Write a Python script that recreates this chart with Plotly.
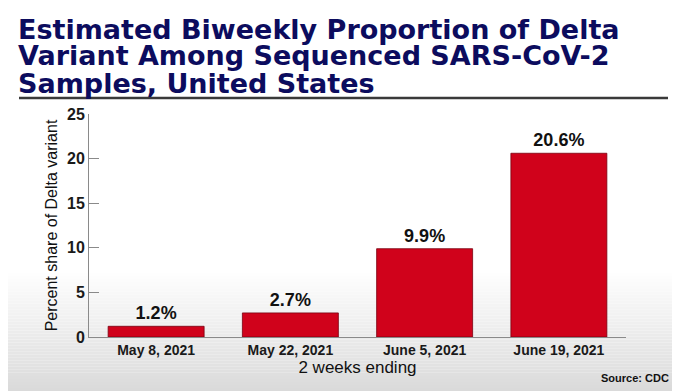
import plotly.graph_objects as go

# ---- data ----
categories = ["May 8, 2021", "May 22, 2021", "June 5, 2021", "June 19, 2021"]
values = [1.2, 2.7, 9.9, 20.6]
labels = ["1.2%", "2.7%", "9.9%", "20.6%"]
y_ticks = [0, 5, 10, 15, 20, 25]
title_lines = ["Estimated Biweekly Proportion of Delta",
               "Variant Among Sequenced SARS-CoV-2",
               "Samples, United States"]

# page body has an 8px margin; work in window pixels and compensate
OFF = 8
W, H = 680 - OFF, 391 - OFF
ML, MR, MT, MB = 89 - OFF, 54, 114 - OFF, 54
PW, PH = W - ML - MR, H - MT - MB

def px(x):  # window pixel x -> paper x
    return (x - OFF - ML) / PW

def py(y):  # window pixel y (from top) -> paper y
    return (H - MB - (y - OFF)) / PH

fig = go.Figure()
fig.add_trace(go.Bar(
    x=categories, y=values, text=labels, textposition="outside",
    texttemplate="<b>%{text}</b>",
    textfont=dict(family="Liberation Sans", size=18, color="#111111"),
    marker=dict(color="#d0021b", line=dict(color="#7a0010", width=0.8)),
    cliponaxis=False, width=0.715,
))

shapes = []
# background gradient (white -> light gray) at the bottom
n = 40
y0, y1 = 270, 391
for i in range(n):
    ya = y0 + (y1 - y0) * i / n
    yb = y0 + (y1 - y0) * (i + 1) / n
    t = (i + 0.5) / n
    g = int(round(255 - (255 - 218) * t))
    shapes.append(dict(type="rect", xref="paper", yref="paper", layer="below",
                       x0=px(0), x1=px(680), y0=py(yb), y1=py(ya),
                       fillcolor=f"rgb({g},{g},{g})", line=dict(width=0)))
# rule under title
shapes.append(dict(type="line", xref="paper", yref="paper",
                   x0=px(19), x1=px(668), y0=py(98), y1=py(98),
                   line=dict(color="#3a3a3a", width=2.5)))

annotations = []
for i, line in enumerate(title_lines):
    annotations.append(dict(
        text=f"<b>{line}</b>", xref="paper", yref="paper",
        x=px(16), y=py(29 + i * 27), xanchor="left", yanchor="middle",
        showarrow=False,
        font=dict(family="DejaVu Sans", size=27, color="#0c0c5e")))
annotations.append(dict(
    text="<b>Source: CDC</b>", xref="paper", yref="paper",
    x=px(671), y=py(378), xanchor="right", yanchor="middle", showarrow=False,
    font=dict(family="Liberation Sans", size=11, color="#111111")))

fig.update_layout(
    width=W, height=H,
    margin=dict(l=ML, r=MR, t=MT, b=MB, pad=0),
    paper_bgcolor="white", plot_bgcolor="rgba(0,0,0,0)",
    showlegend=False, shapes=shapes, annotations=annotations,
    bargap=0.285,
)
fig.update_yaxes(
    range=[0, 25], tickvals=y_ticks, ticktext=[f"<b>{v}</b>" for v in y_ticks],
    ticks="inside", ticklen=10, automargin=False,
    tickcolor="#8a8a8a", showline=True, linecolor="#8a8a8a", linewidth=1,
    showgrid=False, zeroline=False,
    tickfont=dict(family="Liberation Sans", size=16, color="#1a1a1a"),
    title=dict(text="Percent share of Delta variant", standoff=5,
               font=dict(family="Liberation Sans", size=16, color="#111111")),
)
fig.update_xaxes(
    tickvals=categories, ticktext=[f"<b>{c}</b>" for c in categories],
    showline=True, linecolor="#8a8a8a", linewidth=1, ticks="",
    showgrid=False, automargin=False,
    tickfont=dict(family="Liberation Sans", size=14, color="#1a1a1a"),
    title=dict(text="2 weeks ending", standoff=2,
               font=dict(family="Liberation Sans", size=17, color="#111111")),
)

fig.write_html("out.html")
